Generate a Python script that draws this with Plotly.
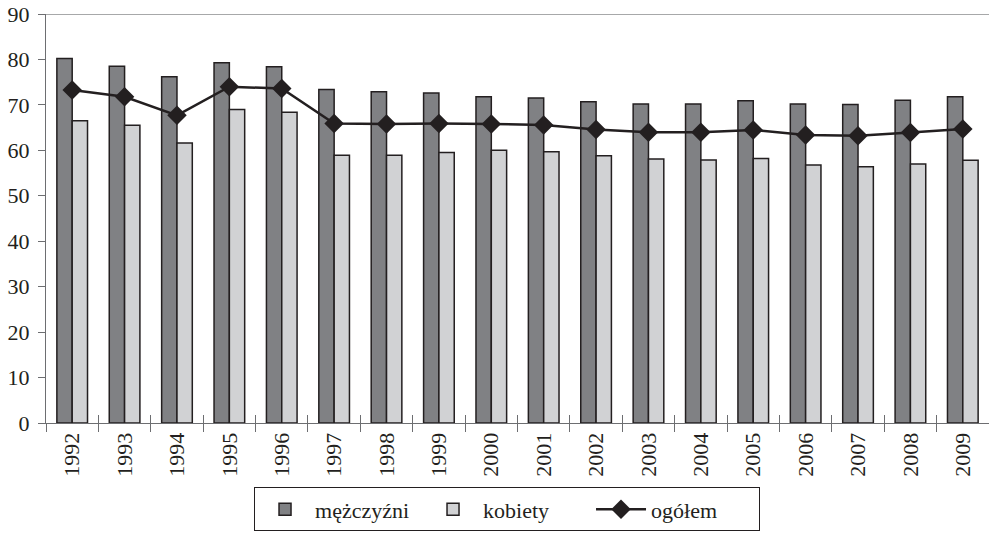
import plotly.graph_objects as go

years = ["1992", "1993", "1994", "1995", "1996", "1997", "1998", "1999", "2000",
         "2001", "2002", "2003", "2004", "2005", "2006", "2007", "2008", "2009"]
mezczyzni = [80.2, 78.5, 76.2, 79.3, 78.4, 73.4, 72.9, 72.6, 71.8,
             71.5, 70.7, 70.2, 70.2, 70.9, 70.2, 70.1, 71.0, 71.8]
kobiety = [66.5, 65.5, 61.6, 69.0, 68.4, 58.9, 58.9, 59.5, 60.0,
           59.7, 58.8, 58.1, 57.9, 58.2, 56.8, 56.4, 57.0, 57.8]
ogolem = [73.3, 71.8, 67.7, 74.0, 73.6, 65.9, 65.8, 65.9, 65.8,
          65.6, 64.6, 64.0, 64.0, 64.5, 63.4, 63.2, 63.9, 64.7]
y_ticks = [0, 10, 20, 30, 40, 50, 60, 70, 80, 90]

INK = "#231f20"
AXIS = "#6d6e71"
FONT = dict(family="Liberation Serif", size=22, color=INK)
LEGEND_FONT = dict(family="Liberation Serif", size=22, color=INK)

fig = go.Figure()
fig.add_trace(go.Bar(
    x=years, y=mezczyzni, name="mężczyźni",
    marker=dict(color="#808184", line=dict(color=INK, width=1.5)),
))
fig.add_trace(go.Bar(
    x=years, y=kobiety, name="kobiety",
    marker=dict(color="#d1d2d4", line=dict(color=INK, width=1.5)),
))
fig.add_trace(go.Scatter(
    x=years, y=ogolem, name="ogółem", xaxis="x2",
    mode="lines+markers",
    line=dict(color=INK, width=2.5),
    marker=dict(symbol="diamond", size=15, color=INK),
))

x_range = [-0.5, len(years) - 0.5]

fig.update_layout(
    width=989, height=534,
    margin=dict(l=46, r=0, t=14, b=110.5, autoexpand=False),
    paper_bgcolor="white", plot_bgcolor="white",
    font=FONT,
    barmode="group", bargap=0.415, bargroupgap=0,
    showlegend=True,
    legend=dict(
        orientation="h", x=0.2206, xanchor="left", y=-0.2652, yanchor="bottom",
        bordercolor=INK, borderwidth=1, font=LEGEND_FONT, traceorder="normal",
        itemwidth=50, entrywidth=103,
    ),
    xaxis=dict(
        type="category", categoryarray=years, range=x_range,
        showline=True, linecolor=AXIS, linewidth=1,
        ticks="outside", ticklen=8, tickcolor=AXIS, tickwidth=1,
        tickson="boundaries", tickangle=-90, tickfont=FONT,
        showgrid=False, zeroline=False, automargin=False,
    ),
    xaxis2=dict(
        type="category", categoryarray=years, range=x_range,
        overlaying="x", side="bottom", anchor="y",
        ticks="inside", ticklen=8, tickcolor=AXIS, tickwidth=1,
        tickson="boundaries", showticklabels=False,
        showline=False, showgrid=False, zeroline=False,
    ),
    yaxis=dict(
        range=[0, 90], tickvals=y_ticks,
        showline=True, linecolor=AXIS, linewidth=1,
        ticks="outside", ticklen=7, tickcolor=AXIS, tickwidth=1,
        tickfont=FONT, ticklabelstandoff=4,
        showgrid=False, zeroline=False, automargin=False,
    ),
    shapes=[dict(
        type="line", xref="paper", yref="y", x0=0, x1=1, y0=90, y1=90,
        line=dict(color="#8a8b8d", width=1.5), layer="below",
    )],
)

fig.write_html("out.html")
